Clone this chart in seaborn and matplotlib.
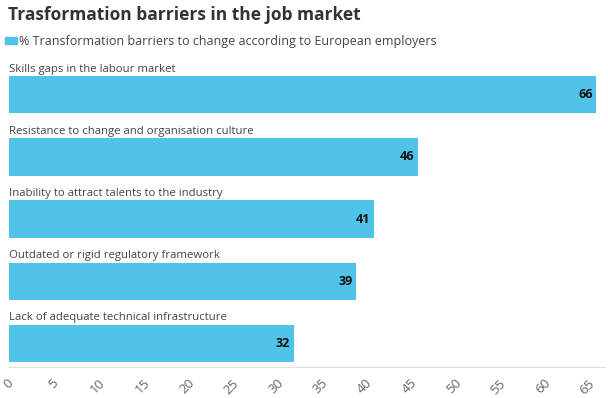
import matplotlib
matplotlib.use("Agg")
import matplotlib.pyplot as plt
import seaborn as sns
import pandas as pd

categories = [
    "Skills gaps in the labour market",
    "Resistance to change and organisation culture",
    "Inability to attract talents to the industry",
    "Outdated or rigid regulatory framework",
    "Lack of adequate technical infrastructure",
]
values = [66, 46, 41, 39, 32]
ticks = list(range(0, 70, 5))

df = pd.DataFrame({"barrier": categories, "pct": values})

sns.set_theme(style="white")
plt.rcParams["font.family"] = ["Open Sans", "DejaVu Sans"]

bar_color = "#4fc3e8"

fig = plt.figure(figsize=(6.08, 3.98), dpi=100)
ax = fig.add_axes([9 / 608, 31 / 398, 596 / 608, 307 / 398])

sns.barplot(data=df, y="barrier", x="pct", color=bar_color, width=0.6,
            saturation=1, linewidth=0, ax=ax, orient="h")

ax.set_xlim(0, 67)
ax.set_ylim(4.38, -0.56)
ax.set_xticks(ticks)
ax.set_xticklabels([str(t) for t in ticks], rotation=45, fontsize=9.5, color="#666666")
ax.tick_params(axis="x", length=5, width=0.8, color="#dddddd", pad=2)
ax.set_yticks([])
ax.set_xlabel("")
ax.set_ylabel("")
for s in ["top", "right", "left"]:
    ax.spines[s].set_visible(False)
ax.spines["bottom"].set_color("#e0e0e0")
ax.spines["bottom"].set_linewidth(0.8)

# category labels above each bar, values at the bar end
for i, (cat, v) in enumerate(zip(categories, values)):
    ax.text(0, i - 0.32, cat, ha="left", va="bottom", fontsize=8.2, color="#444444")
    ax.text(v - 0.4, i, str(v), ha="right", va="center", fontsize=9,
            fontweight="bold", color="#111111")

fig.text(8 / 608, 1 - 15 / 398, "Trasformation barriers in the job market",
         fontsize=12.5, fontweight="bold", color="#333333", va="center", ha="left")
fig.patches.append(plt.Rectangle((5 / 608, 1 - 44 / 398), 12 / 608, 7 / 398,
                                 transform=fig.transFigure, color=bar_color))
fig.text(19 / 608, 1 - 41 / 398,
         "% Transformation barriers to change according to European employers",
         fontsize=9, color="#444444", va="center", ha="left")

fig.savefig("out.png", dpi=100)
